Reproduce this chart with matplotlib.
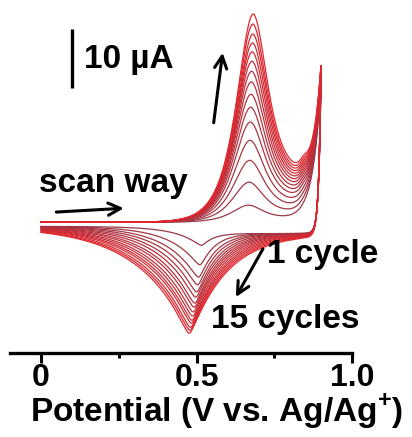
import numpy as np
import matplotlib
matplotlib.use("Agg")
import matplotlib.pyplot as plt
from matplotlib.colors import LinearSegmentedColormap

plt.rcParams['font.family'] = ['Liberation Sans', 'DejaVu Sans']
plt.rcParams['font.weight'] = 'bold'
plt.rcParams['mathtext.fontset'] = 'custom'
plt.rcParams['mathtext.rm'] = 'Liberation Sans:bold'
plt.rcParams['mathtext.bf'] = 'Liberation Sans:bold'

# ---- values (current in µA, potential in V) ----
cycle_numbers = list(range(1, 16))
ox_peak_current = [3.2, 7.1, 10.8, 14.2, 17.3, 19.8, 22.0, 24.1, 25.9, 27.6,
                   29.2, 30.7, 32.2, 33.9, 35.6]
ox_peak_potential = [0.668, 0.670, 0.672, 0.673, 0.674, 0.675, 0.676, 0.677,
                     0.678, 0.679, 0.680, 0.681, 0.682, 0.682, 0.683]
red_peak_current = [-3.6, -6.9, -9.0, -10.3, -11.5, -12.4, -13.4, -14.1, -14.9,
                    -15.6, -16.3, -16.8, -17.5, -18.0, -18.5]
red_peak_potential = [0.515, 0.510, 0.506, 0.503, 0.500, 0.497, 0.494, 0.492,
                      0.489, 0.487, 0.485, 0.483, 0.480, 0.478, 0.476]
vertex_current = [23.8, 24.2, 24.5, 24.8, 25.1, 25.4, 25.6, 25.8, 26.0, 26.2,
                  26.4, 26.5, 26.6, 26.8, 26.9]
red_width_left = [0.09, 0.10, 0.108, 0.115, 0.121, 0.127, 0.132, 0.137, 0.142,
                  0.146, 0.150, 0.154, 0.158, 0.162, 0.165]
red_width_right = [0.035, 0.045, 0.052, 0.058, 0.064, 0.07, 0.075, 0.08, 0.085,
                   0.09, 0.095, 0.1, 0.105, 0.11, 0.115]
E_start, E_vertex = 0.0, 0.9
scale_bar_uA = 10

x_ticks = [0, 0.5, 1.0]
x_tick_labels = ['0', '0.5', '1.0']
x_minor_ticks = [0.25, 0.75]


def sech(x):
    return 1.0 / np.cosh(np.clip(x, -50, 50))


def ox_shape(E, Ep):
    d = E - Ep
    left = sech(d / 0.048)
    right = 0.7 * sech(d / 0.04) + 0.3 / (1 + np.clip(d, 0, None) / 0.3)
    return np.where(d < 0, left, right)


def red_shape(E, Ep, tl, tr):
    d = E - Ep
    s = np.sqrt(d ** 2 + 0.008 ** 2) - 0.008
    return np.where(d < 0, np.exp(-s / tl), np.exp(-s / tr))


def cycle_curve(k):
    Ef = np.linspace(E_start, E_vertex, 500)
    Er = Ef[::-1]
    H = ox_peak_current[k] - 0.3
    Ep = ox_peak_potential[k]

    def forward_wave(E):
        return (0.3 + H * ox_shape(E, Ep)
                + 0.035 * H * sech((E - 0.845) / 0.012))

    fw_at_vertex = float(forward_wave(np.array([E_vertex]))[0])
    V_f = vertex_current[k] - fw_at_vertex
    i_f = forward_wave(Ef) + V_f * np.exp((Ef - E_vertex) / 0.026)

    Rp = red_peak_current[k] + 1.0
    Erp = red_peak_potential[k]

    def reverse_wave(E):
        step = 1.0 / (1.0 + np.exp(-(E - Erp) / 0.03))
        return (-0.4 - 1.2 * step
                + Rp * red_shape(E, Erp, red_width_left[k], red_width_right[k]))

    rw_at_vertex = float(reverse_wave(np.array([E_vertex]))[0])
    V_r = vertex_current[k] - rw_at_vertex
    i_r = reverse_wave(Er) + V_r * np.exp(-(E_vertex - Er) / 0.007)
    E = np.concatenate([Ef, Er])
    I = np.concatenate([i_f, i_r])
    return E, I


fig = plt.figure(figsize=(4.12, 4.37), dpi=100)
ax = fig.add_axes([10 / 412, 84 / 437, 342 / 412, 353 / 437])

cmap = LinearSegmentedColormap.from_list('cv', ['#9a3a48', '#e2262e'])
for k in range(len(cycle_numbers)):
    E, I = cycle_curve(k)
    ax.plot(E, I, color=cmap(k / (len(cycle_numbers) - 1)), lw=0.9,
            solid_joinstyle='round')

ax.set_xlim(-0.1, 1.0)
ax.set_ylim(-21.86, 37.97)

for s in ['top', 'right', 'left']:
    ax.spines[s].set_visible(False)
ax.spines['bottom'].set_linewidth(2.4)
ax.set_yticks([])
ax.set_xticks(x_ticks)
ax.set_xticklabels(x_tick_labels, fontsize=23, fontweight='bold')
ax.set_xticks(x_minor_ticks, minor=True)
ax.tick_params(axis='x', which='major', direction='out', length=7, width=2.2, pad=0.5)
ax.tick_params(axis='x', which='minor', direction='out', length=3.5, width=2.2)
fig.text(217 / 412, (437 - 422) / 437, 'Potential (V vs. Ag/Ag$^{+}$)',
         fontsize=24, fontweight='bold', ha='center', va='baseline')

# scale bar
ax.plot([0.099, 0.099], [23.0, 23.0 + scale_bar_uA], color='black', lw=2.4,
        solid_capstyle='butt')
ax.text(0.138, 26.4, '10 µA', fontsize=24, fontweight='bold', ha='left', va='baseline')

# annotations
arrow_kw = dict(arrowstyle='->', lw=2.2, color='black', mutation_scale=22)
ax.text(-0.006, 5.4, 'scan way', fontsize=24, fontweight='bold', ha='left', va='baseline')
ax.annotate('', xy=(0.275, 2.7), xytext=(0.04, 2.0), arrowprops=arrow_kw)
ax.annotate('', xy=(0.585, 29.5), xytext=(0.554, 16.7), arrowprops=arrow_kw)
ax.text(0.728, -6.6, '1 cycle', fontsize=24, fontweight='bold', ha='left', va='baseline')
ax.annotate('', xy=(0.622, -12.8), xytext=(0.718, -3.8), arrowprops=arrow_kw)
ax.text(0.545, -17.7, '15 cycles', fontsize=24, fontweight='bold', ha='left', va='baseline')

fig.savefig('out.png', dpi=100)
